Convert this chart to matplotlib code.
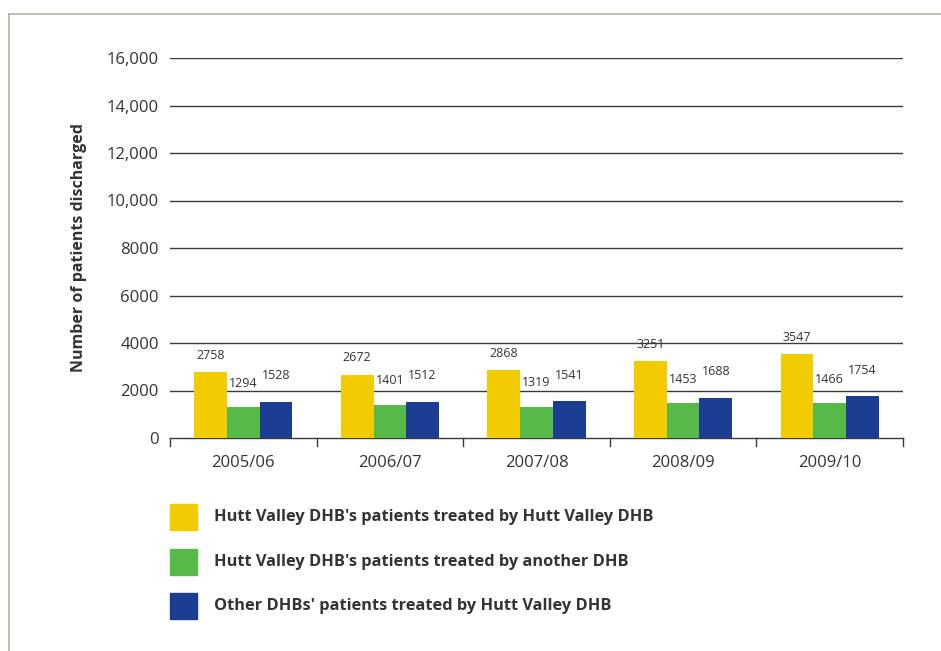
import numpy as np
import matplotlib.pyplot as plt
from matplotlib.patches import Rectangle
from matplotlib.lines import Line2D

plt.rcParams['font.family'] = ['Open Sans', 'DejaVu Sans']

years = ['2005/06', '2006/07', '2007/08', '2008/09', '2009/10']
own_by_own = [2758, 2672, 2868, 3251, 3547]
own_by_other = [1294, 1401, 1319, 1453, 1466]
other_by_own = [1528, 1512, 1541, 1688, 1754]
series_labels = ["Hutt Valley DHB's patients treated by Hutt Valley DHB",
                 "Hutt Valley DHB's patients treated by another DHB",
                 "Other DHBs' patients treated by Hutt Valley DHB"]
yticks = [0, 2000, 4000, 6000, 8000, 10000, 12000, 14000, 16000]
ytick_labels = ['0', '2000', '4000', '6000', '8000', '10,000', '12,000', '14,000', '16,000']

colors = ['#F2CB00', '#56B948', '#1B3D92']
label_offsets = [700, 1000, 1100]
txt_col = '#333333'
line_col = '#3a3a3a'

fig = plt.figure(figsize=(9.41, 6.51), dpi=100)
ax = fig.add_axes([170/941, 1-438/651, 733/941, 380/651])

x = np.arange(len(years))
w = 0.223
for i, (vals, c, off) in enumerate(zip([own_by_own, own_by_other, other_by_own], colors, label_offsets)):
	pos = x + (i-1)*w
	ax.bar(pos, vals, width=w, color=c, zorder=3)
	for px, v in zip(pos, vals):
		ax.text(px, v+off, str(v), ha='center', va='center', fontsize=9, color=txt_col)

ax.set_xlim(-0.5, len(years)-0.5)
ax.set_ylim(0, 16000)
ax.set_yticks(yticks)
ax.set_yticklabels(ytick_labels)
for t in yticks[1:]:
	ax.axhline(t, color=line_col, lw=1, zorder=1)
ax.tick_params(axis='y', length=0, pad=8, labelsize=12, labelcolor=txt_col)
ax.set_xticks(x)
ax.set_xticklabels(years)
ax.tick_params(axis='x', length=0, pad=12, labelsize=12, labelcolor=txt_col)
for s in ['top', 'right', 'left']:
	ax.spines[s].set_visible(False)
ax.spines['bottom'].set_color(line_col)
ax.spines['bottom'].set_linewidth(1)
ax.set_ylabel('Number of patients discharged', fontsize=11.5, fontweight='bold', color=txt_col, labelpad=14)
ax.patch.set_visible(False)

# category boundary ticks
for b in np.arange(-0.5, len(years), 1.0):
	ax.add_line(Line2D([b, b], [0, -0.022], transform=ax.get_xaxis_transform(), clip_on=False, color=line_col, lw=1))

# legend
for j, (lab, c) in enumerate(zip(series_labels, colors)):
	yc = 517 + j*44.5
	fig.add_artist(Rectangle((170/941, 1-(yc+13)/651), 27/941, 26/651, transform=fig.transFigure, color=c))
	fig.text(214/941, 1-yc/651, lab, fontsize=11.8, fontweight='bold', color=txt_col, va='center')

# outer frame (top and left)
fig.add_artist(Line2D([9/941, 1], [1-14/651, 1-14/651], transform=fig.transFigure, color='#b5b1a6', lw=1.2))
fig.add_artist(Line2D([9/941, 9/941], [0, 1-14/651], transform=fig.transFigure, color='#b5b1a6', lw=1.2))

fig.savefig('out.png', dpi=100)
